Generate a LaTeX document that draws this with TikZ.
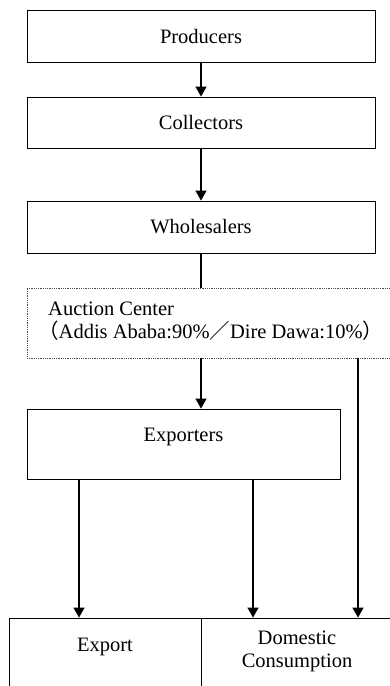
\documentclass[tikz,border=0pt]{standalone}
\usepackage{fontspec}
\setmainfont{Liberation Serif}
\newfontfamily\cjk{Noto Sans CJK JP}
\usetikzlibrary{arrows.meta}
\tikzset{
  box/.style={draw=black, line width=0.8pt, rectangle, inner sep=0pt},
  dotbox/.style={draw=black!70, line width=0.7pt, dash pattern=on 0.7pt off 1.1pt, rectangle, inner sep=0pt},
  txt/.style={inner sep=0pt, font=\fontsize{20.5}{23}\selectfont, align=center},
  arr/.style={line width=1.2pt, -{Triangle[width=11pt,length=10pt]}},
  plain/.style={line width=1.2pt}
}
\begin{document}
\begin{tikzpicture}[x=1pt,y=-1pt]
\useasboundingbox (0,0) rectangle (390,686);
\clip (0,0) rectangle (390,686);
\fill[white] (0,0) rectangle (390,686);
% boxes
\node[box, minimum width=348pt, minimum height=52pt] (producers) at (201,36) {};
\node[box, minimum width=348pt, minimum height=51pt] (collectors) at (201,122.5) {};
\node[box, minimum width=348pt, minimum height=52pt] (wholesalers) at (201,227) {};
\node[dotbox, minimum width=373pt, minimum height=70pt] (auction) at (213.5,323) {};
\node[box, minimum width=313pt, minimum height=70pt] (exporters) at (183.5,444) {};
\node[box, minimum width=192pt, minimum height=92pt] (export) at (105,664) {};
\node[box, minimum width=192pt, minimum height=92pt] (domestic) at (297,664) {};
% texts
\node[txt] (producerslbl) at (producers) {Producers};
\node[txt] (collectorslbl) at (collectors) {Collectors};
\node[txt] (wholesalerslbl) at (wholesalers) {Wholesalers};
\node[txt, anchor=base west] (auctionlbl1) at (48,315) {Auction Center};
\node[txt, anchor=base west] (auctionlbl2) at (38,338) {{\cjk （}Addis Ababa:90\%{\cjk ／}Dire Dawa:10\%{\cjk ）}};
\node[txt] (exporterslbl) at (183.5,437) {Exporters};
\node[txt] (exportlbl) at (105,647) {Export};
\node[txt] (domesticlbl) at (297,651) {Domestic\\Consumption};
% connector x positions
\coordinate (c1) at (79,0);
\coordinate (c2) at (253,0);
\coordinate (c3) at (358,0);
% connectors
\draw[arr] (producers.south) -- (collectors.north);
\draw[arr] (collectors.south) -- (wholesalers.north);
\draw[plain] (wholesalers.south) -- (auction.north -| wholesalers);
\draw[arr] (auction.south -| wholesalers) -- (exporters.north -| wholesalers);
\draw[arr] (exporters.south -| c1) -- (export.north -| c1);
\draw[arr] (exporters.south -| c2) -- (domestic.north -| c2);
\draw[arr] (auction.south -| c3) -- (domestic.north -| c3);
\end{tikzpicture}
\end{document}
